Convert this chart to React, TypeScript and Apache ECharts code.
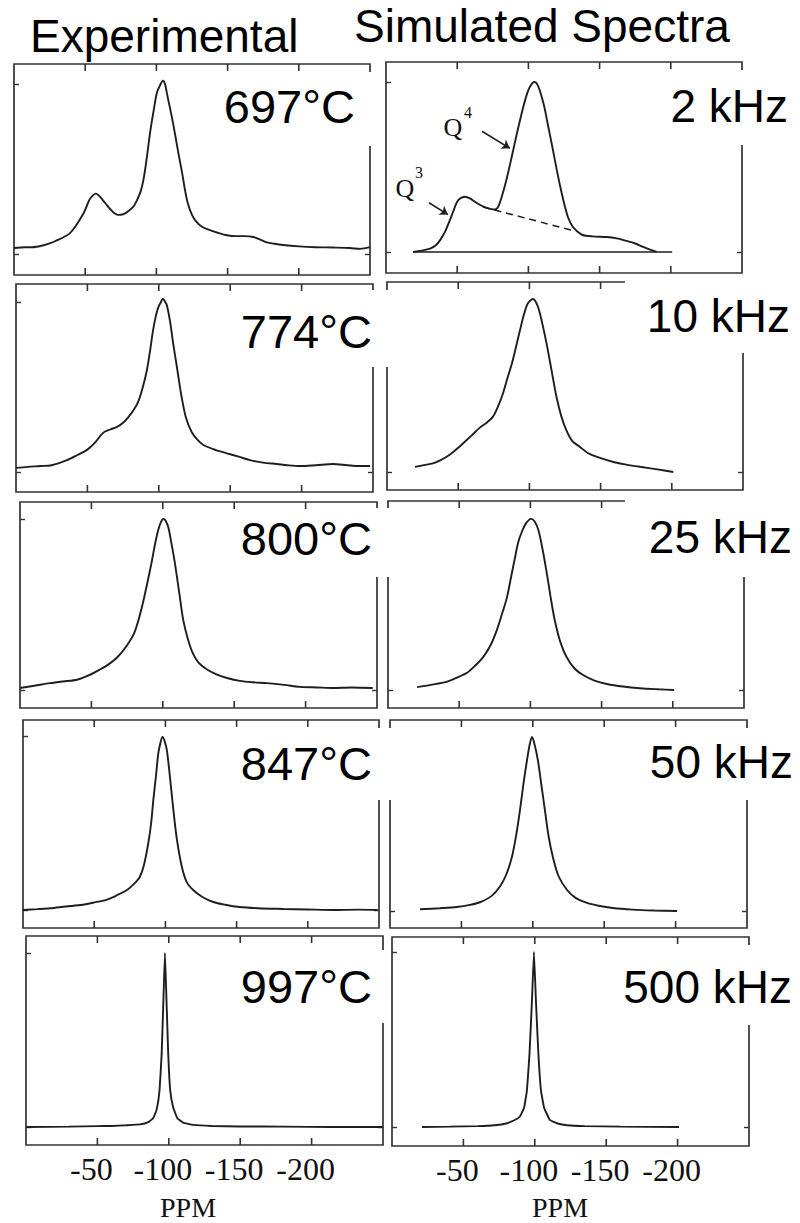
import React, { useEffect, useRef } from "react";
import * as echarts from "echarts";

// ---------- DATA (ppm, relative intensity) ----------
const tickLabels = ["-50", "-100", "-150", "-200"];
const tickValues = [-50, -100, -150, -200];
const expLabels = ["697°C", "774°C", "800°C", "847°C", "997°C"];
const simLabels = ["2 kHz", "10 kHz", "25 kHz", "50 kHz", "500 kHz"];

const exp697 = [[0,0.035],[-8,0.04],[-13,0.04],[-20,0.05],[-26,0.065],[-30,0.08],[-35,0.1],[-39,0.12],[-43,0.16],[-47.5,0.22],[-50,0.26],[-53,0.32],[-55.5,0.345],[-57.6,0.355],[-60,0.34],[-64,0.3],[-68,0.26],[-73,0.23],[-77,0.235],[-80,0.25],[-84,0.28],[-86,0.31],[-89,0.37],[-91,0.44],[-93,0.55],[-95.5,0.71],[-98,0.84],[-100.4,0.95],[-103,1.0],[-104.6,1.02],[-106,1.0],[-108,0.92],[-110.5,0.82],[-113,0.71],[-115.5,0.59],[-118,0.48],[-120,0.38],[-122,0.3],[-125,0.23],[-128,0.19],[-132,0.16],[-137.6,0.14],[-143,0.125],[-149.6,0.11],[-156,0.105],[-162,0.105],[-168,0.1],[-173,0.085],[-177,0.07],[-183,0.06],[-189,0.053],[-200,0.045],[-212,0.04],[-224,0.038],[-236,0.035],[-243,0.03],[-250,0.04]];
const exp774 = [[0,0.024],[-8,0.03],[-17,0.035],[-25,0.04],[-35.7,0.07],[-43,0.1],[-49.7,0.13],[-55,0.17],[-61,0.23],[-66,0.25],[-70.7,0.265],[-75,0.29],[-78.4,0.32],[-82,0.36],[-85.4,0.41],[-88.5,0.49],[-91.7,0.6],[-94,0.72],[-96,0.835],[-98,0.92],[-99.7,0.97],[-101.5,1.0],[-102.9,1.02],[-104.5,1.0],[-105.7,0.98],[-108,0.88],[-110,0.76],[-113,0.6],[-116,0.44],[-119,0.32],[-123,0.235],[-127,0.19],[-131,0.16],[-138,0.135],[-147.7,0.11],[-156,0.09],[-163.8,0.07],[-173,0.055],[-182.7,0.047],[-190,0.04],[-199,0.035],[-210,0.04],[-222,0.047],[-232,0.04],[-240,0.035],[-248,0.035]];
const exp800 = [[0,0.012],[-10,0.025],[-21,0.04],[-30,0.05],[-40,0.06],[-48,0.085],[-56,0.12],[-62,0.15],[-68,0.19],[-74,0.25],[-79.8,0.33],[-83,0.41],[-86.1,0.51],[-89,0.62],[-92,0.74],[-94.5,0.85],[-96.8,0.935],[-98.6,0.98],[-100.4,1.0],[-102,0.99],[-103.9,0.95],[-106,0.86],[-108.5,0.74],[-111.5,0.57],[-114.3,0.41],[-117.5,0.3],[-121,0.215],[-125,0.16],[-131,0.12],[-138,0.09],[-145,0.07],[-154,0.053],[-163,0.045],[-173,0.04],[-185,0.03],[-196,0.018],[-208,0.015],[-219,0.012],[-232,0.015],[-247,0.012]];
const exp847 = [[0,0.0],[-10,0.005],[-19,0.01],[-30,0.02],[-42,0.03],[-51,0.045],[-59,0.06],[-66,0.085],[-73,0.115],[-78,0.15],[-82,0.19],[-85,0.26],[-88,0.385],[-90,0.5],[-91.5,0.63],[-93.5,0.78],[-95,0.9],[-96.5,0.96],[-97.9,0.995],[-99.5,0.97],[-101,0.92],[-103,0.78],[-105.6,0.575],[-108,0.41],[-111.5,0.25],[-115,0.16],[-119.5,0.115],[-126,0.075],[-133.6,0.046],[-142,0.03],[-152,0.017],[-165,0.01],[-183,0.006],[-200,0.003],[-218,0.0],[-235,0.002],[-249,0.0]];
const exp997 = [[0,0],[-30,0.002],[-50,0.005],[-60,0.006],[-70,0.01],[-80,0.015],[-86,0.03],[-89,0.05],[-91.5,0.1],[-93.5,0.21],[-95,0.42],[-96.3,0.75],[-97.3,1.0],[-98.3,0.75],[-99.6,0.42],[-101,0.21],[-103,0.115],[-106,0.05],[-110,0.025],[-117,0.012],[-130,0.006],[-150,0.003],[-180,0.002],[-215,0],[-250,0]];

const sim2 = [[-19,0],[-25,0.008],[-31,0.02],[-35,0.04],[-38,0.07],[-41.5,0.12],[-45,0.19],[-47.5,0.245],[-49.6,0.29],[-52,0.315],[-55.5,0.325],[-59,0.315],[-62.5,0.295],[-66.5,0.275],[-70.8,0.26],[-74,0.252],[-76.5,0.25],[-79,0.27],[-82,0.345],[-85,0.44],[-88.3,0.56],[-92,0.7],[-96.3,0.85],[-99,0.93],[-101,0.97],[-104,1.0],[-106,0.99],[-108,0.95],[-111,0.86],[-114,0.735],[-117,0.61],[-120,0.48],[-123,0.36],[-125.7,0.265],[-128,0.2],[-131,0.15],[-134.5,0.12],[-138,0.1],[-145,0.092],[-155,0.088],[-162,0.08],[-169,0.065],[-175,0.05],[-180.5,0.03],[-185,0.015],[-190,0]];
const sim2Q3 = [[-68,0.265],[-100,0.195],[-134,0.12]];
const sim2Baseline = [[-19,0],[-201,0]];
const sim10 = [[-19.7,0.03],[-26,0.04],[-32.3,0.05],[-38,0.07],[-44,0.1],[-50,0.14],[-56,0.185],[-60.5,0.22],[-65,0.255],[-70,0.285],[-74.4,0.32],[-78,0.38],[-81.5,0.455],[-84.5,0.54],[-87.8,0.63],[-90.5,0.72],[-93.4,0.82],[-96.5,0.92],[-99,0.975],[-102.5,1.0],[-106,0.955],[-109,0.86],[-112,0.745],[-115.5,0.59],[-119,0.435],[-122.5,0.32],[-126,0.24],[-130,0.18],[-135.5,0.145],[-141,0.11],[-147.5,0.087],[-159,0.058],[-168,0.043],[-177.7,0.03],[-190,0.015],[-201,0.0]];
const sim25 = [[-20.4,0.017],[-30,0.03],[-41,0.047],[-48,0.07],[-55.5,0.1],[-61,0.14],[-66.7,0.19],[-72,0.26],[-76.5,0.35],[-80,0.44],[-83.6,0.54],[-86.5,0.66],[-89.2,0.77],[-91.5,0.86],[-94,0.92],[-97,0.97],[-100.4,0.995],[-103,0.98],[-105.6,0.93],[-108.5,0.82],[-111.5,0.68],[-114,0.55],[-117,0.41],[-121,0.28],[-125.5,0.19],[-131,0.125],[-137,0.087],[-145,0.055],[-153.7,0.035],[-165,0.02],[-177,0.01],[-190,0.004],[-201,0]];
const sim50 = [[-21,0.01],[-35,0.016],[-46.9,0.023],[-56,0.035],[-63,0.05],[-71,0.085],[-77,0.14],[-81.5,0.21],[-85.4,0.31],[-88.5,0.44],[-91,0.575],[-93.5,0.73],[-95.9,0.86],[-97.8,0.95],[-99.4,0.995],[-101,0.96],[-103.6,0.86],[-106,0.72],[-108.5,0.575],[-111,0.43],[-114,0.31],[-118,0.2],[-124,0.12],[-130,0.075],[-138,0.046],[-146,0.03],[-156,0.017],[-170,0.008],[-185,0.003],[-201,0]];
const sim500 = [[-21,0],[-40,0.002],[-60,0.005],[-72,0.01],[-80,0.02],[-86,0.04],[-89.6,0.06],[-92.5,0.11],[-94.5,0.21],[-96.3,0.42],[-98,0.72],[-99.4,1.0],[-100.8,0.72],[-102.5,0.42],[-104.3,0.21],[-106.5,0.11],[-110.6,0.04],[-116,0.02],[-122.5,0.01],[-135,0.005],[-160,0.002],[-201,0]];

const expSeries = [exp697, exp774, exp800, exp847, exp997];
const simSeries = [sim2, sim10, sim25, sim50, sim500];

// ---------- LAYOUT ----------
const PANELS = [
  { box: [14, 64, 370, 275], zero: 254, one: 84 },
  { box: [16, 284, 373, 492], zero: 472, one: 302 },
  { box: [20, 502, 377, 708], zero: 690, one: 519 },
  { box: [23, 720, 379, 928], zero: 910, one: 736 },
  { box: [26, 936, 383, 1145], zero: 1127, one: 953 },
  { box: [386, 62, 742, 273], zero: 252, one: 82 },
  { box: [387, 282, 743, 490], zero: 472, one: 299 },
  { box: [388, 501, 744, 708], zero: 690, one: 518 },
  { box: [390, 720, 747, 928], zero: 911, one: 736 },
  { box: [392, 937, 749, 1146], zero: 1127, one: 952 },
];
const LABEL_POS = [
  [355, 106, 47], [372, 331, 47], [372, 538, 47], [372, 763, 47], [372, 986, 47],
  [788, 106, 46], [790, 316, 46], [792, 537, 46], [793, 762, 46], [792, 987, 46],
];
const WHITE_BOX = [
  [215, 72, 165, 74], [230, 290, 162, 77], [230, 508, 165, 69], [230, 728, 165, 72], [230, 950, 157, 73],
  [655, 70, 145, 75], [625, 276, 175, 77], [625, 495, 175, 82], [630, 728, 170, 72], [610, 945, 190, 80],
];
const TICK_LEN = 7;

const LINE = "#1e1e1e";
const FRAME = "#333";

function inWhiteBox(x: number, y: number) {
  return WHITE_BOX.some(([bx, by, bw, bh]) => x >= bx && x <= bx + bw && y >= by && y <= by + bh);
}

export default function App() {
  const ref = useRef<HTMLDivElement>(null);
  useEffect(() => {
    if (!ref.current) return;
    const chart = echarts.init(ref.current, null, { renderer: "svg" });
    const grids: any[] = [];
    const xAxes: any[] = [];
    const yAxes: any[] = [];
    const series: any[] = [];
    const allData = [...expSeries, ...simSeries];
    PANELS.forEach((p, i) => {
      const [l, t, r, b] = p.box;
      grids.push({ left: l, top: t, width: r - l, height: b - t, show: true, borderColor: FRAME, borderWidth: 1.7, containLabel: false });
      const bottomRow = i === 4 || i === 9;
      xAxes.push({
        gridIndex: i, type: "value", min: -250, max: 0, interval: 50, inverse: true, position: "bottom",
        axisLine: { show: false, onZero: false }, axisTick: { show: false }, splitLine: { show: false },
        axisLabel: bottomRow ? {
          show: true, margin: 8, fontFamily: "Liberation Serif", fontSize: 32, color: "#111",
          padding: [0, 12, 0, 0],
          formatter: (v: number) => (tickLabels.includes(String(v)) ? String(v) : ""),
        } : { show: false },
      });
      xAxes.push({
        gridIndex: i, type: "value", min: -250, max: 0, interval: 50, inverse: true, position: "top",
        axisLine: { show: false, onZero: false }, axisTick: { show: false }, splitLine: { show: false }, axisLabel: { show: false },
      });
      const u = p.zero - p.one;
      const ymin = -(b - p.zero) / u;
      const ymax = (p.zero - t) / u;
      const mkYTick = (vals: number[]) => ({ show: true, inside: true, length: 5, lineStyle: { color: FRAME, width: 1.4 }, customValues: vals });
      yAxes.push({
        gridIndex: i, type: "value", min: ymin, max: ymax, position: "left",
        axisLine: { show: false, onZero: false }, axisLabel: { show: false }, splitLine: { show: false },
        axisTick: mkYTick([0, 1]),
      });
      yAxes.push({
        gridIndex: i, type: "value", min: ymin, max: ymax, position: "right",
        axisLine: { show: false, onZero: false }, axisLabel: { show: false }, splitLine: { show: false },
        axisTick: mkYTick([0]),
      });
      const narrow = i === 4 || i === 9;
      const s: any = {
        name: i < 5 ? expLabels[i] : simLabels[i - 5],
        type: "line", xAxisIndex: 2 * i, yAxisIndex: 2 * i,
        data: allData[i], showSymbol: false, smooth: narrow ? 0.1 : 0.3,
        lineStyle: { color: LINE, width: 1.9 }, z: 3,
      };
      if (i === 5) {
        s.markLine = {
          silent: true, symbol: ["none", "arrow"], symbolSize: 8,
          label: { show: false },
          lineStyle: { color: LINE, width: 1.6, type: "solid" },
          data: [
            [{ coord: [-67.4, 0.71] }, { coord: [-87, 0.61] }],
            [{ coord: [-30.2, 0.29] }, { coord: [-43.5, 0.22] }],
          ],
        };
      }
      series.push(s);
      if (i === 5) {
        series.push({
          name: "Q3 component", type: "line", xAxisIndex: 2 * i, yAxisIndex: 2 * i,
          data: sim2Q3, showSymbol: false, smooth: 0.3,
          lineStyle: { color: LINE, width: 1.5, type: [7, 5] }, z: 3,
        });
        series.push({
          name: "baseline", type: "line", xAxisIndex: 2 * i, yAxisIndex: 2 * i,
          data: sim2Baseline, showSymbol: false,
          lineStyle: { color: "#555", width: 2.2 }, z: 2,
        });
      }
    });

    const graphics: any[] = [];
    WHITE_BOX.forEach(([x, y, w, h]) => {
      graphics.push({ type: "rect", z: 50, shape: { x, y, width: w, height: h }, style: { fill: "#fff" } });
    });
    [...expLabels, ...simLabels].forEach((txt, i) => {
      const [rx, cy, fs] = LABEL_POS[i];
      graphics.push({
        type: "text", z: 60, x: rx, y: cy,
        style: { text: txt, fill: "#000", font: `${fs}px "Liberation Sans", Arial, sans-serif`, textAlign: "right", verticalAlign: "middle" },
      });
    });
    const title = (txt: string, x: number, y: number) => ({
      type: "text", z: 60, x, y,
      style: { text: txt, fill: "#000", font: `46px "Liberation Sans", Arial, sans-serif`, textAlign: "left", verticalAlign: "middle" },
    });
    graphics.push(title("Experimental", 30, 36));
    graphics.push(title("Simulated Spectra", 354, 26));
    const ppm = (x: number) => ({
      type: "text", z: 60, x, y: 1207,
      style: { text: "PPM", fill: "#111", font: `28px "Liberation Serif", "Times New Roman", serif`, textAlign: "center", verticalAlign: "middle" },
    });
    graphics.push(ppm(188));
    graphics.push(ppm(560));
    const qText = (txt: string, x: number, y: number, fs: number) => ({
      type: "text", z: 60, x, y,
      style: { text: txt, fill: "#111", font: `${fs}px "Liberation Serif", "Times New Roman", serif`, textAlign: "center", verticalAlign: "middle" },
    });
    graphics.push(qText("Q", 453, 127, 26));
    graphics.push(qText("4", 468, 112, 16));
    graphics.push(qText("Q", 405, 188, 26));
    graphics.push(qText("3", 419, 172, 16));

    chart.setOption({
      animation: false,
      backgroundColor: "#fff",
      grid: grids,
      xAxis: xAxes,
      yAxis: yAxes,
      series,
      graphic: { elements: graphics },
    });

    // inward x ticks on the bottom and top frame edges, located through the x-axis scale
    const tickEls: any[] = [];
    PANELS.forEach((p, i) => {
      const [, t, , b] = p.box;
      tickValues.forEach((v) => {
        const x = chart.convertToPixel({ xAxisIndex: 2 * i }, v) as number;
        if (typeof x !== "number" || !isFinite(x)) return;
        if (!inWhiteBox(x, b - 3)) {
          tickEls.push({ type: "line", z: 55, shape: { x1: x, y1: b, x2: x, y2: b - TICK_LEN }, style: { stroke: FRAME, lineWidth: 1.6 } });
        }
        if (!inWhiteBox(x, t + 3)) {
          tickEls.push({ type: "line", z: 55, shape: { x1: x, y1: t, x2: x, y2: t + TICK_LEN }, style: { stroke: FRAME, lineWidth: 1.6 } });
        }
      });
    });
    chart.setOption({ graphic: { elements: [...graphics, ...tickEls] } });
    return () => chart.dispose();
  }, []);
  return <div ref={ref} style={{ position: "absolute", left: 0, top: 0, width: 800, height: 1223 }} />;
}
